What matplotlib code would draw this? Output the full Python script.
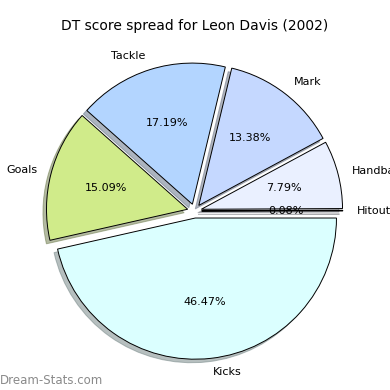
import matplotlib
matplotlib.use('Agg')
import matplotlib.pyplot as plt

# data
labels = ['Hitout', 'Handball', 'Mark', 'Tackle', 'Goals', 'Kicks']
values = [0.08, 7.79, 13.38, 17.19, 15.09, 46.47]
colors = ['#f2f6ff', '#eaf0ff', '#c5d8ff', '#b3d5ff', '#d0eb8a', '#dbffff']
explode = [0.05, 0.05, 0.05, 0.05, 0.05, 0.05]


def main():
    fig = plt.figure(figsize=(3.9, 3.9), dpi=100)
    w = 0.905
    ax = fig.add_axes([194.5 / 390 - w / 2, 1 - 211 / 390 - w / 2, w, w])

    ax.pie(values, labels=labels, colors=colors, explode=explode,
           autopct='%1.2f%%', startangle=0,
           shadow={'ox': -0.018, 'oy': -0.018, 'shade': 0.5},
           wedgeprops={'edgecolor': 'black', 'linewidth': 0.7},
           textprops={'fontsize': 8})
    ax.set_aspect('equal')

    fig.text(0.5, 1 - 26 / 390, 'DT score spread for Leon Davis (2002)',
             ha='center', va='center', fontsize=10)
    fig.text(0.0, 1 - 380 / 390, 'Dream-Stats.com', ha='left', va='center',
             fontsize=8.5, color='#8a8a8a')

    fig.savefig('out.png', dpi=100)


if __name__ == "__main__":
    main()
